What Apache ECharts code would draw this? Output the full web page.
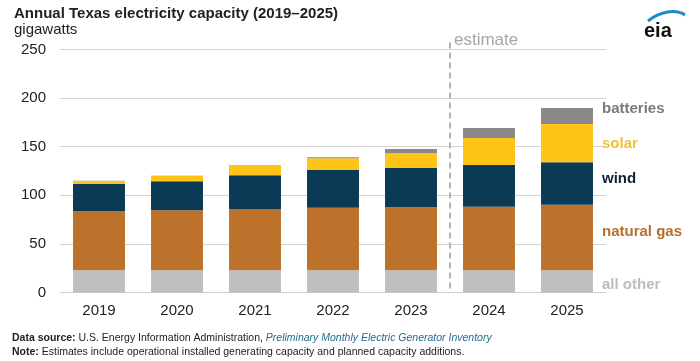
<!DOCTYPE html>
<html>
<head>
<meta charset="utf-8">
<script src="https://cdn.jsdelivr.net/npm/echarts@6/dist/echarts.min.js"></script>
<style>html,body{margin:0;padding:0;background:#fff}#c{width:700px;height:361px}</style>
</head>
<body>
<div id="c"></div>
<script>
var years = ['2019','2020','2021','2022','2023','2024','2025'];
var allOther = [23, 23, 23, 23, 23, 23, 23];
var naturalGas = [60.8, 61.5, 62.9, 64.3, 64.6, 65.3, 67.3];
var wind = [27.8, 29.9, 34.6, 38.7, 40.4, 42.9, 43.6];
var solar = [3.1, 5.4, 9.6, 12.0, 15.2, 27.8, 39.5];
var batteries = [0.3, 0.4, 0.5, 1.1, 4.4, 10.2, 16.4];
var yTicks = [0, 50, 100, 150, 200, 250];

var FONT = 'Liberation Sans, Arial, sans-serif';
var chart = echarts.init(document.getElementById('c'), null, {renderer: 'canvas'});

function bar(name, data, color) {
  return {name: name, type: 'bar', stack: 'cap', data: data, barWidth: '66.6%',
    itemStyle: {color: color}, emphasis: {disabled: true}};
}

var option = {
  animation: false,
  grid: {left: 60, right: 94, top: 49.5, bottom: 68.5},
  xAxis: {
    type: 'category', data: years,
    axisLine: {show: true, lineStyle: {color: '#cfcfcf', width: 1}},
    axisTick: {show: false},
    axisLabel: {color: '#222', fontSize: 15, fontFamily: FONT, margin: 11}
  },
  yAxis: {
    type: 'value', min: yTicks[0], max: yTicks[yTicks.length - 1], interval: 50,
    axisLine: {show: false}, axisTick: {show: false},
    splitLine: {lineStyle: {color: '#d4d4d4', width: 1}},
    axisLabel: {color: '#222', fontSize: 15, fontFamily: FONT, margin: 14}
  },
  series: [
    bar('all other', allOther, '#bfbfbf'),
    bar('natural gas', naturalGas, '#bc722b'),
    bar('wind', wind, '#0b3a55'),
    bar('solar', solar, '#ffc418'),
    bar('batteries', batteries, '#898989')
  ]
};
chart.setOption(option);

var xA = chart.convertToPixel({xAxisIndex: 0}, '2023');
var xB = chart.convertToPixel({xAxisIndex: 0}, '2024');
var xDash = (xA + xB) / 2;
var yTop = chart.convertToPixel({yAxisIndex: 0}, 252);
var yBot = chart.convertToPixel({yAxisIndex: 0}, 0);

function txt(x, y, text, font, color, extra) {
  var st = {text: text, x: x, y: y, fill: color, font: font, textVerticalAlign: 'middle', textAlign: 'left'};
  if (extra) { for (var k in extra) st[k] = extra[k]; }
  return {type: 'text', style: st, z: 100};
}

chart.setOption({graphic: [
  {type: 'line', shape: {x1: xDash, y1: yTop - 5, x2: xDash, y2: yBot - 2},
   style: {stroke: '#b3b3b3', lineWidth: 2, lineDash: [6, 4]}},
  txt(xDash + 4, 40, 'estimate', '17px ' + FONT, '#a6a6a6'),
  txt(602, 109, 'batteries', 'bold 15px ' + FONT, '#7a7a7a'),
  txt(602, 144, 'solar', 'bold 15px ' + FONT, '#f2bf3a'),
  txt(602, 179, 'wind', 'bold 15px ' + FONT, '#0d2136'),
  txt(602, 232, 'natural gas', 'bold 15px ' + FONT, '#b3702f'),
  txt(602, 285, 'all other', 'bold 15px ' + FONT, '#bdbdbd'),
  txt(14, 14, 'Annual Texas electricity capacity (2019\u20132025)', 'bold 15px ' + FONT, '#222'),
  txt(14, 30, 'gigawatts', '15px ' + FONT, '#222'),
  txt(12, 338, '{b|Data source:} U.S. Energy Information Administration, {i|Preliminary Monthly Electric Generator Inventory}',
     '10.5px ' + FONT, '#222',
     {rich: {b: {font: 'bold 10.5px ' + FONT, fill: '#222'}, i: {font: 'italic 10.5px ' + FONT, fill: '#1f6c8f'}}}),
  txt(12, 352, '{b|Note:} Estimates include operational installed generating capacity and planned capacity additions.',
     '10.5px ' + FONT, '#222',
     {rich: {b: {font: 'bold 10.5px ' + FONT, fill: '#222'}}}),
  {type: 'bezierCurve', shape: {x1: 648, y1: 21, cpx1: 660, cpy1: 11, cpx2: 676, cpy2: 9, x2: 685, y2: 15},
   style: {stroke: '#1b8ac7', lineWidth: 3, fill: null}},
  txt(644, 31, 'eia', 'bold 20px ' + FONT, '#111')
]});
</script>
</body>
</html>
